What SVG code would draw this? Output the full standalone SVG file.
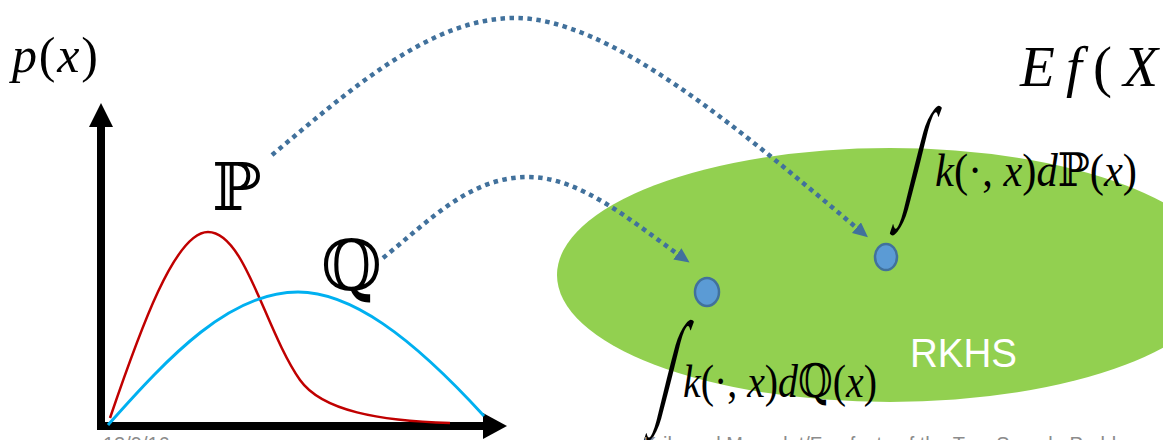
<svg xmlns="http://www.w3.org/2000/svg" width="1163" height="440" viewBox="0 0 1163 440">
<style>
.m{font-family:"Liberation Serif","DejaVu Serif",serif;fill:#000}
.i{font-style:italic}
.bb{font-family:"DejaVu Serif","DejaVu Sans",serif;font-style:normal}
.conn{fill:none;stroke:#41719c;stroke-width:4.5;stroke-dasharray:4.5 4.5}
.dot{fill:#5b9bd5;stroke:#41719c;stroke-width:2.5}
.foot{font-family:"Liberation Sans",Arial,sans-serif;font-size:20px;fill:#8c8c8c}
</style>
<defs>
<marker id="ah" markerUnits="userSpaceOnUse" markerWidth="18" markerHeight="16" refX="2" refY="7" orient="auto">
<path d="M0,0 L15,7 L0,14 z" fill="#41719c"/>
</marker>
</defs>
<rect width="1163" height="440" fill="#fff"/>

<g id="rkhs">
<ellipse cx="890" cy="275" rx="333" ry="127" fill="#92d050"/>
<text x="910" y="367" font-family="Liberation Sans,Arial,sans-serif" font-size="40" fill="#fff" textLength="107" lengthAdjust="spacingAndGlyphs">RKHS</text>
</g>

<g id="axes">
<line x1="101" y1="124" x2="101" y2="430" stroke="#000" stroke-width="8"/>
<path d="M101,103 L113,127 L89,127 z" fill="#000"/>
<line x1="97" y1="426" x2="485" y2="426" stroke="#000" stroke-width="8"/>
<path d="M507,426 L483,413 L483,439 z" fill="#000"/>
</g>

<g id="curve-p">
<path d="M110,418 C140,330 175,232 208,232 C245,232 265,330 300,380 C322,411 380,421 450,423" fill="none" stroke="#c00000" stroke-width="2.5"/>
</g>
<g id="curve-q">
<path d="M108,425 C170,355 230,292 298,292 C350,292 410,335 484,416" fill="none" stroke="#00b0f0" stroke-width="3"/>
</g>

<g id="px-label">
<text class="m" x="12" y="72" font-size="50" textLength="86" lengthAdjust="spacing"><tspan class="i">p</tspan>(<tspan class="i">x</tspan>)</text>
</g>
<g id="label-p">
<text class="m bb" x="212" y="210" font-size="66">ℙ</text>
</g>
<g id="label-q">
<text class="m bb" x="321" y="290" font-size="70">ℚ</text>
</g>

<g id="ef-label">
<text class="m" x="1020" y="86" font-size="57" textLength="138" lengthAdjust="spacing"><tspan class="i">E</tspan><tspan class="i">f</tspan>(<tspan class="i">X</tspan></text>
</g>

<g id="point-p"><ellipse class="dot" cx="886" cy="257" rx="11" ry="13"/></g>
<g id="point-q"><ellipse class="dot" cx="707" cy="292" rx="12" ry="14"/></g>

<g id="embed-p">
<text class="m" transform="translate(901,200) skewX(-14) scale(0.5,1.2)" font-size="110">∫</text>
<text class="m" x="935" y="186" font-size="46" textLength="202" lengthAdjust="spacingAndGlyphs"><tspan class="i">k</tspan>(·, <tspan class="i">x</tspan>)<tspan class="i">d</tspan><tspan class="bb">ℙ</tspan>(<tspan class="i">x</tspan>)</text>
</g>
<g id="embed-q">
<text class="m" transform="translate(654,410) skewX(-14) scale(0.5,1.15)" font-size="110">∫</text>
<text class="m" x="683" y="397" font-size="46" textLength="194" lengthAdjust="spacingAndGlyphs"><tspan class="i">k</tspan>(·, <tspan class="i">x</tspan>)<tspan class="i">d</tspan><tspan class="bb">ℚ</tspan>(<tspan class="i">x</tspan>)</text>
</g>

<g id="connectors">
<path class="conn" d="M272,155 C350,90 430,18 515,18 C610,18 740,130 858,229" marker-end="url(#ah)"/>
<path class="conn" d="M383,258 C430,220 470,177 528,177 C580,177 630,220 679,255" marker-end="url(#ah)"/>
</g>

<g id="footer">
<text class="foot" x="103" y="451">12/9/16</text>
<text class="foot" x="643" y="451">Krikamol Muandet/Fun facts of the Two-Sample Problem</text>
</g>
</svg>
